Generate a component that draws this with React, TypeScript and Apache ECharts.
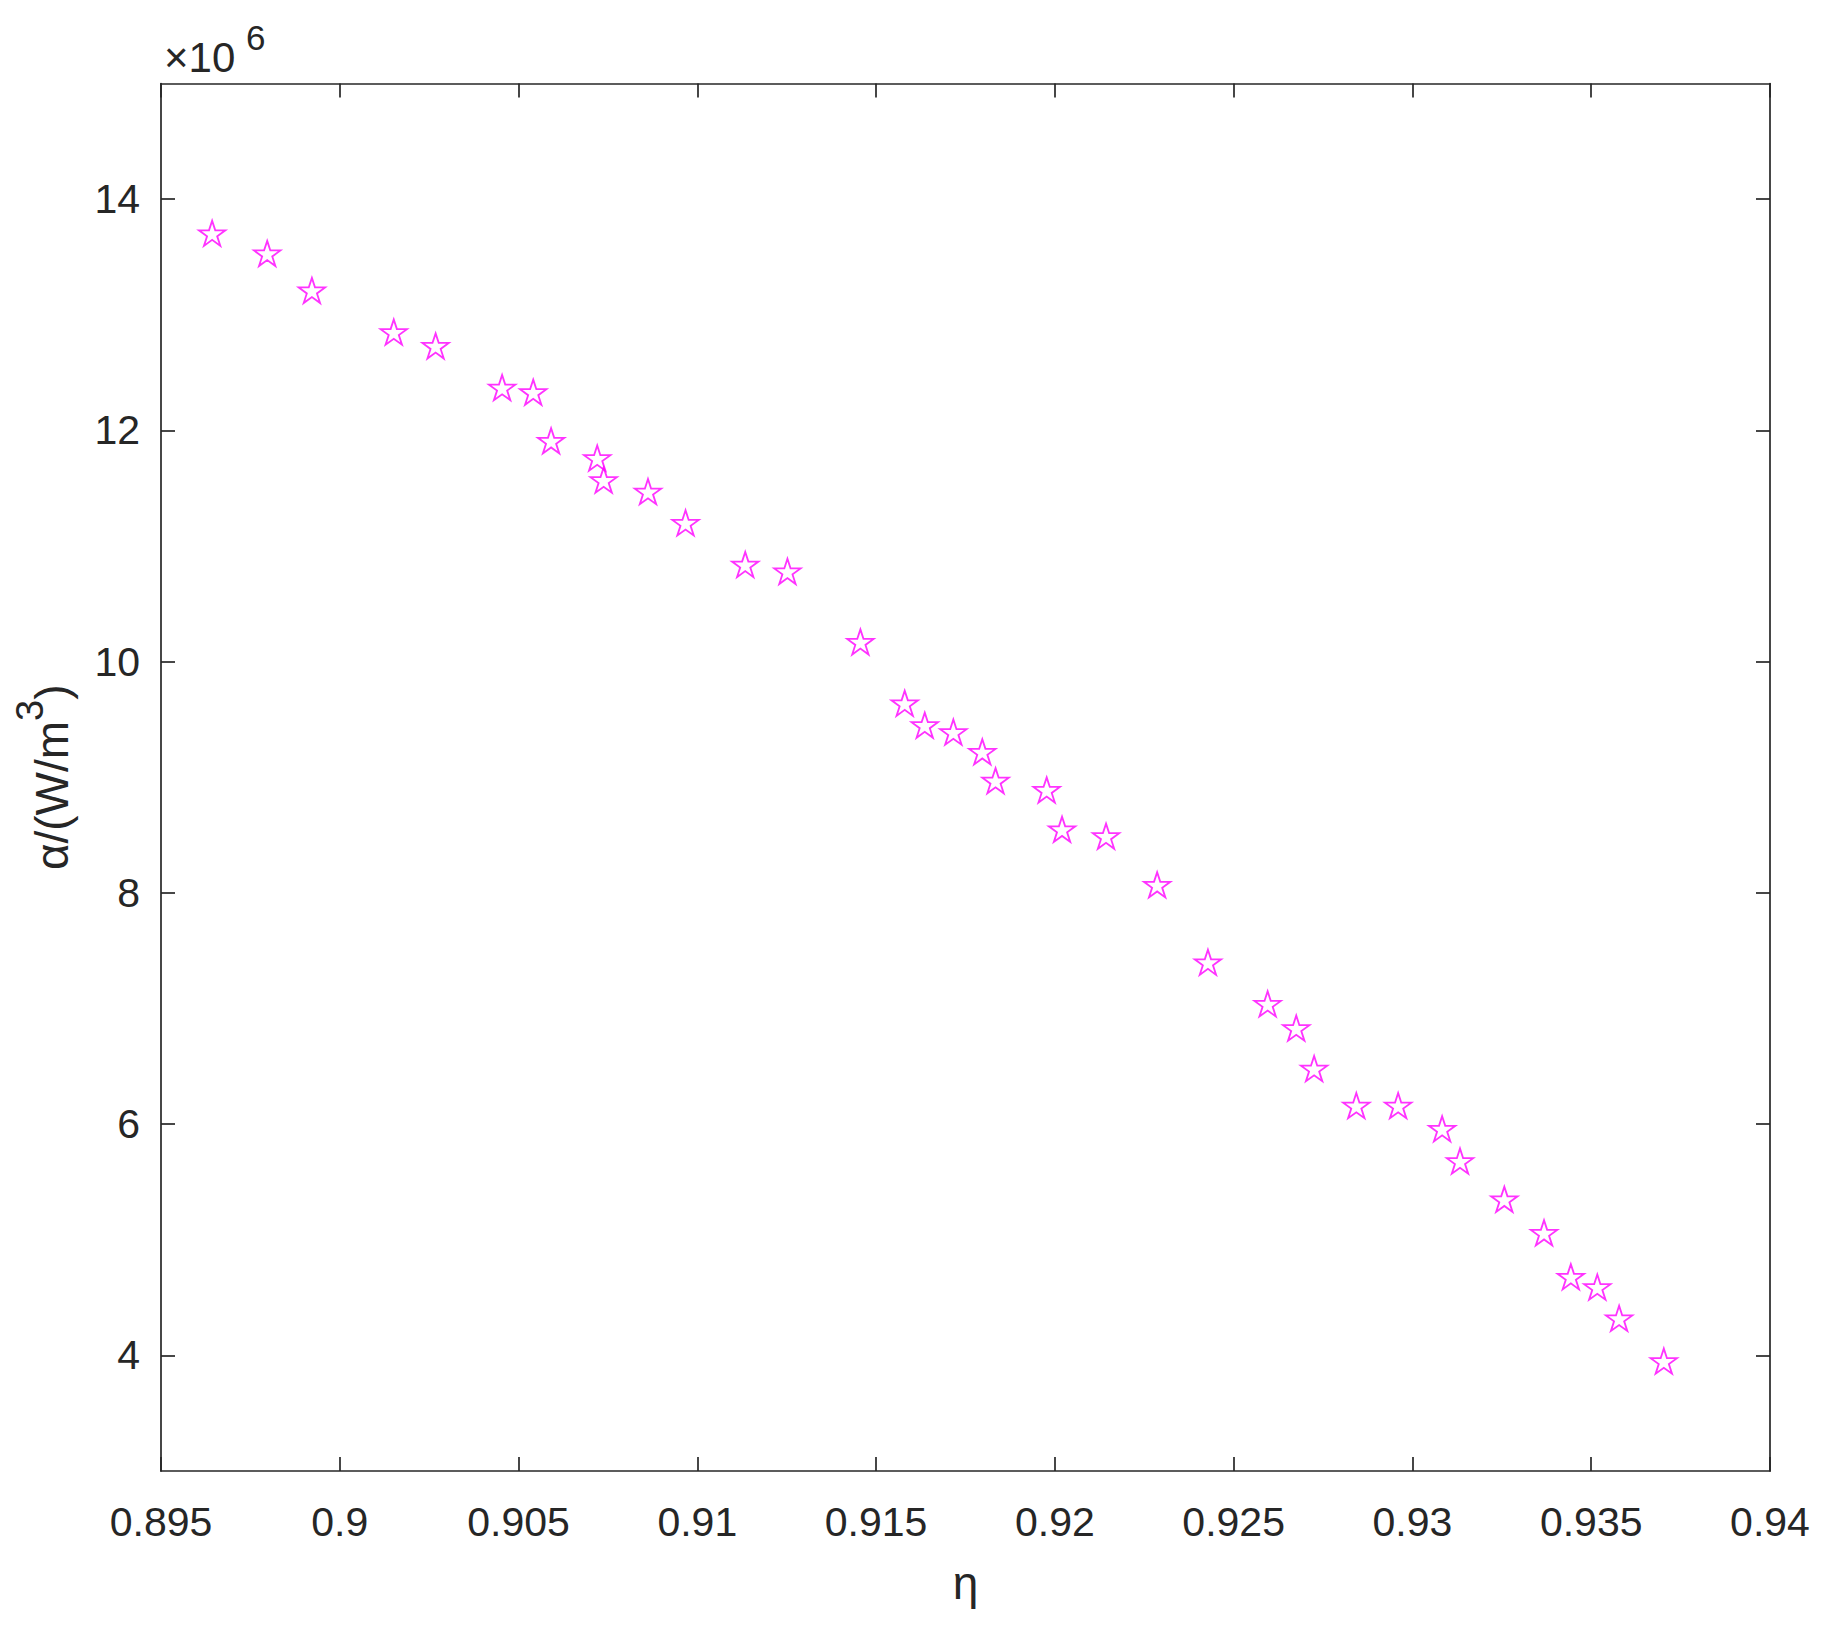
import React, { useEffect, useRef } from "react";
import * as echarts from "echarts";

// η values (x) and α values in units of 10^6 W/m^3 (y)
const etaValues = [
  0.89643, 0.89797, 0.89922, 0.90151, 0.90268, 0.90454, 0.90541, 0.90591,
  0.9072, 0.90738, 0.90862, 0.90967, 0.91134, 0.91252, 0.91456, 0.9158,
  0.91636, 0.91716, 0.91797, 0.91834, 0.91977, 0.9202, 0.92143, 0.92286,
  0.92428, 0.92595, 0.92675, 0.92725, 0.92843, 0.9296, 0.93083, 0.93133,
  0.93257, 0.93368, 0.93443, 0.93517, 0.93578, 0.93703,
];
const alphaValues = [
  13.705, 13.53, 13.21, 12.85, 12.73, 12.37, 12.33, 11.91,
  11.76, 11.57, 11.47, 11.2, 10.84, 10.78, 10.17, 9.64,
  9.45, 9.39, 9.22, 8.97, 8.89, 8.55, 8.49, 8.07,
  7.4, 7.04, 6.83, 6.48, 6.16, 6.16, 5.96, 5.68,
  5.35, 5.06, 4.68, 4.59, 4.32, 3.95,
];
const xTickValues = [0.895, 0.9, 0.905, 0.91, 0.915, 0.92, 0.925, 0.93, 0.935, 0.94];
const yTickValues = [4, 6, 8, 10, 12, 14];
const xRange = [0.895, 0.94];
const yRange = [3, 15];
const xAxisTitle = "η";
const yAxisTitleMain = "α/(W/m";
const yAxisTitleSup = "3";
const yAxisTitleEnd = ")";
const exponentBase = "×10";
const exponentPower = "6";

const FONT = '"Liberation Sans", Arial, Helvetica, sans-serif';
const INK = "#262626";
const STAR =
  "path://M50,0L61.23,34.55L97.55,34.55L68.16,55.9L79.39,90.45L50,69.1L20.61,90.45L31.84,55.9L2.45,34.55L38.77,34.55Z";

export default function App() {
  const ref = useRef<HTMLDivElement>(null);

  useEffect(() => {
    const chart = echarts.init(ref.current!, null, { renderer: "svg" });
    const axisLine = { show: true, lineStyle: { color: INK, width: 1.7 } };
    const fmtX = (v: number) => String(Number(v.toFixed(3)));
    chart.setOption({
      animation: false,
      backgroundColor: "#ffffff",
      grid: { left: 161, right: 60, top: 83.5, bottom: 166, containLabel: false },
      xAxis: [
        {
          type: "value",
          position: "bottom",
          min: xRange[0],
          max: xRange[1],
          axisLine,
          axisTick: { show: true, inside: true, length: 14, customValues: xTickValues, lineStyle: { color: INK, width: 1.7 } },
          axisLabel: {
            show: true,
            customValues: xTickValues,
            formatter: fmtX,
            fontSize: 41,
            fontFamily: FONT,
            color: INK,
            margin: 30,
            showMinLabel: true,
            showMaxLabel: true,
          },
          splitLine: { show: false },
          name: xAxisTitle,
          nameLocation: "middle",
          nameGap: 89,
          nameTextStyle: { fontSize: 46, fontFamily: FONT, color: INK },
        },
        {
          type: "value",
          position: "top",
          min: xRange[0],
          max: xRange[1],
          axisLine,
          axisTick: { show: true, inside: true, length: 14, customValues: xTickValues, lineStyle: { color: INK, width: 1.7 } },
          axisLabel: { show: false },
          splitLine: { show: false },
        },
      ],
      yAxis: [
        {
          type: "value",
          position: "left",
          min: yRange[0],
          max: yRange[1],
          axisLine,
          axisTick: { show: true, inside: true, length: 14, customValues: yTickValues, lineStyle: { color: INK, width: 1.7 } },
          axisLabel: {
            show: true,
            customValues: yTickValues,
            fontSize: 41,
            fontFamily: FONT,
            color: INK,
            margin: 21,
          },
          splitLine: { show: false },
          name: `{m|${yAxisTitleMain}}{s|${yAxisTitleSup}}{m|${yAxisTitleEnd}}`,
          nameLocation: "middle",
          nameGap: 68,
          nameTextStyle: {
            color: INK,
            rich: {
              m: { fontSize: 46, fontFamily: FONT, color: INK },
              s: { fontSize: 38, fontFamily: FONT, color: INK, padding: [0, 0, 44, 0] },
            },
          },
        },
        {
          type: "value",
          position: "right",
          min: yRange[0],
          max: yRange[1],
          axisLine,
          axisTick: { show: true, inside: true, length: 14, customValues: yTickValues, lineStyle: { color: INK, width: 1.7 } },
          axisLabel: { show: false },
          splitLine: { show: false },
        },
      ],
      graphic: [
        {
          type: "text",
          x: 164,
          y: 57,
          style: { text: exponentBase, fontSize: 42, fontFamily: FONT, fill: INK, align: "left", verticalAlign: "middle" },
        },
        {
          type: "text",
          x: 246,
          y: 37.5,
          style: { text: exponentPower, fontSize: 35, fontFamily: FONT, fill: INK, align: "left", verticalAlign: "middle" },
        },
      ],
      series: [
        {
          type: "scatter",
          xAxisIndex: 0,
          yAxisIndex: 0,
          data: etaValues.map((x, i) => [x, alphaValues[i]]),
          symbol: STAR,
          symbolSize: [26.5, 25.2],
          itemStyle: { color: "transparent", borderColor: "#FF00FF", borderWidth: 1.8 },
          emphasis: { disabled: true },
        },
      ],
    });
    return () => chart.dispose();
  }, []);

  return (
    <div
      ref={ref}
      style={{ position: "absolute", left: 0, top: 0, width: 1830, height: 1637, background: "#fff" }}
    />
  );
}
